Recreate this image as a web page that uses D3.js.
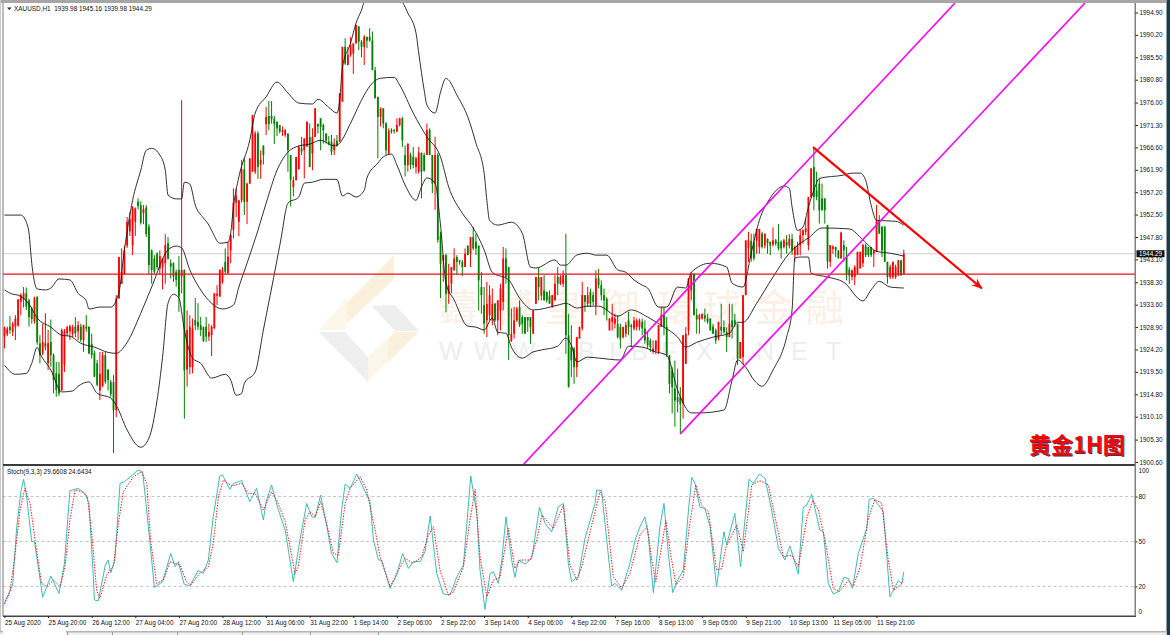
<!DOCTYPE html>
<html><head><meta charset="utf-8">
<script src="https://cdn.jsdelivr.net/npm/d3@7/dist/d3.min.js"></script>
<style>
html,body{margin:0;padding:0;background:#fff;overflow:hidden}
svg{display:block}
text{font-family:"Liberation Sans",Arial,sans-serif}
</style></head><body>
<svg id="c" width="1170" height="635"></svg>
<script>
const opens=[1926.9,1927.4,1929,1927.9,1929,1929.2,1934.2,1934.6,1936,1934.5,
1932.8,1930.1,1935.2,1925.5,1923.4,1924.8,1921.3,1925.8,1923,1919.2,
1919.1,1915.6,1921,1927.6,1928,1927.5,1929,1928,1929,1926.2,
1929,1929,1925.4,1923.5,1921.3,1915.6,1916.5,1923,1920,1917.4,
1917.4,1911.5,1934.9,1938,1940,1946,1949,1946,1951,1955.2,
1954.5,1952.8,1954,1950,1945,1943.3,1944.3,1941.2,1941.5,1942.3,
1946.5,1942.3,1942.3,1940.5,1940.9,1939.5,1940.9,1920,1920.5,1920.5,
1930.4,1930,1929.3,1928.9,1929,1926.9,1927.2,1928.6,1935.5,1935.3,
1938.4,1942.6,1940.2,1945,1949.3,1955,1951,1955.5,1962,1955.2,
1959,1961.5,1961.5,1969.5,1963,1967,1971.5,1973.2,1973.2,1972.6,
1972,1971.3,1969.9,1969.2,1969.5,1965,1958.3,1959.7,1962,1966.4,
1966,1966.8,1968.8,1965.3,1968.8,1971.5,1972.7,1971.3,1969.5,1967.8,
1967.8,1966,1968,1967.8,1976.2,1987.7,1983.9,1986,1986.3,1988.4,
1992,1988.8,1987.7,1989.8,1989.8,1989,1982.8,1977.2,1973,1974.8,
1971.6,1965.3,1970.3,1970.2,1969.9,1971.3,1972.7,1965,1962.9,1965,
1964.6,1962.5,1961.5,1965.5,1965,1965,1970.2,1965,1959,1965,
1948,1942.9,1944,1935.9,1938,1940.8,1943.6,1942.9,1942.6,1941.5,
1946,1944.3,1947.8,1946.8,1946,1937.3,1933.5,1930.3,1931.4,1930.3,
1933.8,1930.3,1932.4,1934.2,1943.3,1941.5,1926,1927.5,1930.3,1933.1,
1931,1931,1931,1931,1927.5,1933.8,1939.4,1935.5,1936.6,1936.3,
1935.5,1933.1,1934.5,1939.4,1938,1938,1939.8,1927.2,1924.7,1924.4,
1920.5,1926.5,1928.6,1935.6,1933.8,1936.3,1935.6,1933.5,1939.1,1937.7,
1935.6,1934.8,1928.2,1930,1929.6,1929.6,1928.9,1926.8,1927.5,1930.3,
1929.3,1928.6,1928.9,1928.9,1930,1928.6,1926.8,1926.1,1923.7,1924,
1923.7,1929,1931.4,1929,1923,1919.8,1916,1914.2,1914.2,1912.9,
1921.2,1928.2,1936.6,1940.1,1931.4,1930.5,1930.7,1931.4,1930.7,1930.7,
1929,1928.2,1926.5,1929,1928.9,1927.9,1926.8,1930.3,1930.3,1929.6,
1922.3,1922.6,1935.6,1945.4,1947,1946.7,1947,1945.7,1948.5,1946,
1947.4,1946.8,1946.2,1947.1,1946.8,1946.8,1945.7,1946.8,1946,1947.4,
1944,1944,1946,1948.2,1948.9,1946.1,1956.2,1962.5,1957.6,1959,
1955.9,1955.9,1950.3,1942.6,1945.3,1945.7,1945,1943.3,1946.1,1943.6,
1941,1939.4,1939.4,1940.1,1941.2,1942.3,1946,1945.7,1945.7,1944.3,
1944.7,1951.3,1950,1950,1942.6,1939.4,1939.4,1939.4,1939.8,1942.9,1939.98];
const closes=[1928.8,1928.6,1928.3,1929.6,1930.7,1934.7,1935.6,1936,1933.2,1931,
1930.6,1935,1925.7,1923,1925.8,1925.5,1925.5,1923,1917.8,1915.7,
1915,1928.3,1928,1928.9,1929.1,1928.9,1927.6,1929.3,1926.2,1929.3,
1928.6,1923.4,1923,1918.5,1916.8,1919.1,1923,1917.4,1917.8,1914.8,
1911.5,1934.9,1943.6,1940.5,1945,1951,1951.6,1954,1953.8,1954.3,
1950.8,1953.7,1948.4,1941.9,1940.9,1940.5,1941.5,1943.8,1943.3,1946.1,
1943.3,1941.6,1939.5,1938.8,1935.3,1940.9,1919.8,1928.3,1929,1928.6,
1929.3,1929,1928.3,1926,1926.9,1927.9,1929,1936,1935.9,1940.9,
1941,1940.5,1943.7,1948.2,1955,1956.5,1955.5,1962,1955.2,1959,
1964.3,1973.4,1969.5,1962.5,1964,1965,1973,1971.5,1972.5,1971.5,
1970.6,1969.9,1970.2,1970.2,1966,1959.8,1959.7,1964.6,1966.7,1965.7,
1968.5,1972,1962.5,1968.8,1974.8,1971,1970.9,1970.2,1968,1967.4,
1965.7,1967.4,1967,1977.9,1987.7,1984.2,1986,1988,1988.4,1992.3,
1988.8,1987.7,1989.8,1989,1989,1982.8,1976.9,1973,1974.8,1971.6,
1966,1970.1,1969.9,1970,1971.3,1972.7,1968.1,1962.9,1967.4,1962.9,
1962.9,1964.3,1965.5,1961.5,1961.7,1970.2,1965,1959,1965,1947.2,
1942.2,1944,1935.9,1937.7,1941.5,1943.3,1942.6,1942.6,1941.5,1944.3,
1944,1947.8,1945.4,1945.4,1938.7,1935.6,1929.6,1933.8,1935.6,1933.8,
1930.3,1934.5,1937,1943.3,1939.4,1927.2,1927.5,1930.3,1932.8,1929.3,
1929.6,1927.5,1930.3,1928.9,1932.4,1939.4,1937.3,1939.4,1934.5,1934.5,
1933.8,1935.6,1938,1938,1939.4,1939.8,1927.2,1916.4,1921.9,1920.5,
1926.8,1928.9,1935.6,1934.2,1935.6,1933.8,1934.2,1939.1,1937.7,1935.6,
1934.5,1932.4,1930.7,1931,1930.7,1926.8,1926.5,1928.9,1929.3,1928.9,
1928.9,1930.3,1930.3,1930.3,1928.6,1926.1,1925.1,1924.7,1924.4,1926.1,
1929.3,1931.4,1929,1923,1917,1916.3,1913.5,1913.2,1912.7,1927.2,
1927.5,1939.1,1939.8,1931.4,1930.5,1931.4,1931.7,1930.7,1930,1928.2,
1927.5,1926.1,1930,1928.2,1927.9,1926.8,1929.6,1928.9,1929.6,1922.3,
1925.8,1935.6,1947.1,1947.1,1943.3,1943.3,1949.5,1949.5,1945.7,1948.5,
1946.5,1946,1947.1,1946.4,1945.4,1945.4,1947.1,1946,1947.4,1945,
1945.7,1946,1948.2,1949.2,1949.6,1956.2,1962.2,1956.2,1956.2,1953.4,
1953.4,1953.4,1942.6,1946.1,1945.8,1945,1943.3,1948.7,1945,1940.1,
1939.7,1940.8,1941.5,1944.7,1944.7,1946.1,1944,1944,1944,1945,
1951.3,1948.5,1945,1942.6,1939.4,1941.5,1942.6,1941.5,1942.9,1939.8,1944.29];
const highs=[1929,1929,1931.2,1930,1931.4,1934.8,1936,1937.3,1937.2,1934.8,
1933.2,1935.3,1935.4,1927.2,1929.6,1931.8,1928.3,1930.5,1923.4,1921.6,
1921.6,1928.6,1928.5,1929.2,1929.4,1929.4,1931,1930.2,1929.6,1929.4,
1931.4,1929,1927.5,1924,1922,1923.7,1923.7,1923.7,1920,1917.8,
1918.8,1935.6,1943.6,1945.4,1946,1952,1953,1954.3,1954,1955.9,
1955.3,1954.5,1954.5,1950.5,1945.2,1944,1944.6,1945,1943.3,1948.4,
1947.8,1943.1,1942.5,1941,1943.8,1976.5,1941,1932.4,1931.4,1930.7,
1935,1933.9,1931,1929,1931,1929.6,1929.3,1936,1937.7,1941,
1941.5,1945.4,1946.8,1948.5,1958,1958,1955.5,1964,1964.3,1959.2,
1964.3,1973.4,1970,1970,1966,1967,1975.1,1976.3,1976.3,1973.2,
1972,1971.3,1971,1970.5,1969.5,1965,1960.5,1964.6,1967,1968.8,
1968.5,1972,1971.6,1970.6,1974.8,1971.6,1972.7,1971.6,1969.6,1969,
1969.2,1968.5,1969.2,1978,1987.7,1989.5,1987.7,1989.8,1988.4,1992.3,
1992,1989.1,1990.2,1989.8,1991.6,1990.9,1983.5,1977.2,1975,1974.8,
1971.9,1970.6,1970.6,1970.5,1972.7,1972.8,1973,1967,1967.4,1965.5,
1966.7,1964.6,1966.7,1965.5,1965.5,1971.6,1970.6,1965,1968.8,1965.5,
1948.9,1944,1944.3,1942.2,1941.5,1945.4,1944,1943,1943,1945.4,
1946,1947.8,1949.9,1948.5,1946,1940.5,1937.3,1938.4,1937.7,1937,
1934,1934.5,1938,1945.7,1945.4,1941.5,1932.8,1933.1,1933.1,1934.5,
1931.4,1931,1931,1931,1932.4,1939.4,1941.5,1939.4,1939.8,1936.3,
1936.6,1935.6,1939.8,1941.5,1939.8,1940.8,1948.5,1931.7,1929.3,1924.7,
1926.8,1929,1938.4,1935.6,1937.3,1937,1936.3,1940.8,1941.1,1938.7,
1937,1935.2,1930.7,1933.8,1931.7,1931.4,1929.6,1929,1930,1932.1,
1929.6,1931,1930.7,1930.7,1930.7,1930.3,1927.9,1926.5,1926.1,1926.1,
1929.3,1933.1,1933.1,1931,1923,1920.5,1921.9,1920.2,1916.3,1927.2,
1928.9,1939.1,1940.5,1940.1,1932.8,1931.7,1931.7,1932.8,1931.7,1930.7,
1929.6,1928.6,1930,1933.8,1930.3,1928.9,1933.8,1933.8,1931.7,1929.6,
1925.8,1935.6,1947.1,1948.9,1948.5,1948.5,1949.5,1949.5,1948.9,1948.5,
1947.5,1946.8,1949.8,1947.4,1950.5,1947.1,1947.4,1948.2,1948.4,1948.5,
1946,1946.8,1949.5,1949.5,1951.7,1956.2,1962.2,1966.4,1961.5,1960,
1959,1955.9,1950.3,1946.1,1946.1,1945.8,1945,1948.9,1947.1,1945.7,
1941.5,1941,1941.9,1944.7,1944.7,1946.4,1946.4,1945.7,1945.7,1945,
1954.5,1952.4,1950,1950,1942.6,1942,1942.6,1942,1943,1943,1945.16];
const lows=[1924.4,1927,1927.5,1927,1926.2,1929,1931.4,1933,1932.5,1929,
1929.6,1929.6,1925.2,1921.3,1923,1924,1919.9,1920.6,1915,1914.3,
1914.4,1915.6,1919.5,1927,1926.2,1926.8,1926.8,1926.2,1925.8,1923.7,
1927.9,1923.2,1922.3,1918.4,1916.5,1913.6,1916.3,1917,1915.6,1914.2,
1902.5,1910,1934.9,1938,1940,1945.5,1948,1944,1948,1953.6,
1950.4,1950.5,1947.8,1940,1938,1940,1941,1940,1936.8,1938,
1943,1939.1,1938.4,1937.4,1932.1,1936,1909.7,1916.4,1919,1919.2,
1928.3,1928.3,1927,1925.8,1925.8,1926,1922.8,1928.6,1933.5,1935.3,
1938,1940,1940,1942.3,1947.5,1952,1948,1955,1952.4,1950.5,
1959,1961.5,1961,1960,1960,1963,1969.2,1970.2,1971.6,1967.3,
1969,1969.5,1969,1968.8,1961.5,1954.2,1956.3,1959.7,1962,1965,
1960.1,1966.7,1962.5,1961.8,1968.8,1969.5,1966,1967.4,1967.4,1967,
1965,1965,1966.7,1967.8,1976.2,1983.9,1983.8,1985.6,1982,1988.4,
1987,1985.5,1983.9,1987.4,1988.8,1982.8,1976.9,1964.3,1971,1970.6,
1965,1965,1969.5,1969.5,1969.8,1971,1966.7,1960.5,1961.5,1962,
1962.2,1961.1,1961.1,1955.9,1961.5,1965,1965,1957,1953.5,1946.6,
1935,1938.4,1932,1933.8,1936,1940.8,1939.8,1942,1939.6,1941.5,
1944,1941.5,1945,1944,1932.4,1931.7,1927.5,1926.8,1930.3,1929.3,
1930,1927.2,1928.2,1932.4,1938,1922,1925.8,1926.5,1930,1928.9,
1927.5,1927.5,1927.9,1925.4,1927.5,1933.8,1934.5,1934.5,1934.5,1934,
1933.8,1933,1934.5,1935.6,1937.7,1937.3,1923.3,1916.2,1918.4,1917,
1918.4,1926.5,1928.2,1932.1,1933.1,1933.1,1933.5,1931.4,1937,1934.5,
1931.4,1930.3,1928.2,1928.2,1928.6,1926.5,1924.4,1926.5,1926.8,1927.2,
1924.7,1928.2,1928.2,1928.2,1927.2,1925.4,1924.4,1923.7,1923.3,1923.2,
1923.3,1928.9,1927.2,1922.6,1915,1910.8,1908,1911,1906.4,1909.7,
1921.2,1927.2,1934.5,1931.4,1927.5,1927.5,1930.5,1930,1929.6,1928.2,
1927.5,1925.4,1926.1,1927.2,1927.5,1923.7,1926.8,1926.5,1928.9,1920.9,
1922.3,1920.9,1935.6,1942.6,1942.6,1942.9,1944.3,1944.3,1945.4,1945.4,
1944.3,1944,1945.8,1946,1945,1943.3,1945.4,1944.3,1945.4,1944,
1942.6,1944,1944,1946.4,1948.2,1945,1956,1953.4,1955.5,1950.6,
1953.4,1950.6,1941.2,1941.5,1944.3,1943.6,1943.3,1943.3,1942.6,1938.7,
1938,1938.7,1937.7,1940.1,1941.2,1941.5,1943.6,1943.6,1943.6,1941.5,
1944.7,1948.5,1943.6,1942.6,1938,1939,1939,1939,1939.6,1939.6,1939.98];

const upperBars=[0,6,8,9,10,12,15,17,20,24,27,30,31,35,39,42,44,47,50,52,54,57,59,60,63,65,66,68,70,73,75,76,79,82,83,84,86,90,92,96,100,104,108,113,115,119,122,123,124,127,129,131,132,135,144,146,148,151,152,154,155,158,160,162,163,166,170,173,176,177,178,181,186,190,193,195,202,204,206,210,214,217,221,225,228,231,234,236,240,243,247,250,252,259,265,267,271,274,277,281,284,286,288,289,291,293,295,297,299,308,311,314,316,318,320,327,330];
const upperVals=[1952.4,1952.4,1950.9,1948.6,1942.3,1936.9,1936.7,1937.1,1939,1938.8,1936,1934.4,1932.7,1933.1,1933.1,1936.2,1945.1,1955.5,1961.8,1966,1966.4,1965,1961.8,1956.6,1955.8,1955.8,1959.3,1958.9,1954.5,1951.8,1950.3,1949.2,1946.5,1946.7,1948.6,1954.1,1960.4,1968.1,1973.8,1977.2,1980.3,1978,1975.9,1975.7,1976.7,1975,1973.8,1976.5,1983.4,1988.5,1992.7,1995.4,1997.1,1998.5,1998.5,1997.1,1994.8,1990.6,1986.4,1978.6,1975.5,1973.8,1978.2,1981.1,1980.7,1977.6,1973,1967.5,1961.2,1955.5,1951.3,1950.3,1950.9,1948.6,1941.5,1941.3,1943,1941.9,1941.9,1944,1944.4,1944,1944,1940.9,1940.4,1938.8,1937.7,1937.1,1933.1,1933.1,1937.3,1937.1,1940.4,1942.3,1941.5,1938.1,1937.3,1944.4,1951.3,1956,1958,1958.5,1958,1954.1,1949.2,1949.9,1954.1,1957.6,1960.1,1960.8,1961.2,1961.2,1959.7,1954.5,1951.3,1951.1,1950.3];
const middleBars=[0,3,5,9,12,17,21,24,28,33,38,41,45,50,54,60,63,65,68,72,76,80,84,86,89,93,96,100,104,108,112,116,121,123,127,132,135,138,143,145,150,155,160,163,168,172,176,179,185,189,194,203,206,210,214,218,225,230,236,242,247,250,254,260,266,269,271,276,282,288,292,295,300,310,315,320,325,330];
const middleVals=[1936.7,1935.8,1935.6,1933.7,1930.8,1928.9,1927.2,1927,1925.5,1924.7,1923.6,1923.4,1925.7,1931.8,1937.3,1945.1,1945.9,1945.5,1940.9,1936.7,1933.9,1932.7,1933.5,1937.3,1942.3,1949.2,1954.9,1961.8,1965.6,1966.9,1967.3,1968.1,1966.9,1967.5,1971.7,1977.6,1980.1,1981.1,1981.3,1979.7,1973.8,1968.8,1964.6,1958.3,1952.8,1949.7,1945.1,1940.4,1938.8,1935,1932.5,1933.5,1933.9,1932.9,1933.3,1933.3,1931.2,1932.5,1931,1928.9,1926.8,1924.7,1925.7,1926.8,1927.6,1929.9,1929.9,1933.9,1939.4,1944.4,1946.5,1947.6,1949.7,1949.5,1947.2,1944.8,1944.4,1943.8];
const lowerBars=[0,4,8,10,12,13,17,21,25,27,31,34,39,41,45,50,53,56,58,60,62,64,66,69,72,76,81,83,85,87,88,92,95,100,102,103,104,108,110,113,117,122,124,126,129,132,133,137,139,142,144,147,151,153,155,158,160,162,165,170,173,176,179,181,184,186,190,194,197,203,206,208,210,214,218,226,229,234,239,243,247,249,252,255,264,267,269,272,275,278,282,287,289,290,292,295,296,302,308,315,318,321,325,330];
const lowerVals=[1920.9,1919,1919.2,1921.3,1924.7,1923.4,1919.9,1915.3,1915.5,1916.5,1917.4,1915,1914,1912.5,1907.3,1903.7,1905.6,1913.6,1922.6,1933.9,1935.8,1935,1928.3,1922.4,1921.3,1918.2,1919,1917.8,1914.6,1915,1917.1,1919.5,1928.3,1943,1949.2,1952.8,1954.9,1956.2,1959.1,1959.3,1959.9,1959.9,1956.4,1957,1956.2,1957.6,1960.2,1963.3,1964.6,1965.2,1962.9,1958.7,1955.5,1958.3,1960.2,1959.1,1950.3,1938.1,1934.6,1929.1,1928.9,1928.3,1930.8,1927.8,1927.6,1924.7,1922.4,1923.7,1924.1,1924.9,1926.6,1925.1,1921.6,1922.6,1922.4,1922,1924.9,1924.7,1923.7,1923,1915.7,1913,1910.9,1910.9,1911.5,1917.8,1922,1920.5,1917.8,1916.5,1919.9,1926.8,1932.5,1943.4,1943.6,1943.6,1940.2,1939.4,1938.3,1934.4,1936.7,1938.5,1937.3,1937.1];

const stochBars=[0,3,4.5,6,7,8,10,11,12.4,14,17,20,22,24,27,29.5,31,32.6,33,34.4,37,38,39,40.5,42.4,44,49,50.7,52.8,55,58,61,62.6,63.8,65.9,68,71,73,74.8,76.6,79,80,82.7,84,87,90,92.5,95,96,98,100.5,103,106,108.4,110.9,112.7,114,116,118.2,120,122,123.7,125,126.8,129.3,134.1,135.4,137.2,138.4,141.5,143.9,146.1,148.2,150,152.5,154.3,156.2,158.6,161,163.5,166,168.4,171.1,173.3,174.5,176.3,178.2,179.4,181.2,182.5,184,186.1,187.3,188.6,191,193.5,196.3,198.4,200.8,203.2,205.1,206.9,208.1,210.6,213,216.7,217.3,219.1,221,222.8,224,226.5,229.5,231.4,233.2,235,236.3,238.1,240.5,242,243.6,245.2,246.7,249.1,251,252.2,253.4,255.2,257,258.9,261.3,264,265,268,270.1,271.7,273.2,274.8,277,279.1,281.5,284,286.4,288.2,291.3,293.1,294.4,296.2,299.2,300.5,302.3,304.1,306,308,309.6,311.2,313.3,316.4,317.3,318.8,322.5,324.9,328,329.2,330];
const stochVals=[9.1,20.9,59.9,83.2,91.5,82.1,49.8,49.8,33.1,12.7,26.9,15.3,35.4,83.9,85.5,82.1,75.4,26.5,10.9,10.2,34.2,37.6,29.1,37.6,88.8,89.9,97.7,96.6,59.9,19.3,23.1,42,33.1,36.5,21.6,20.2,30.5,28.7,37.6,66.5,93.7,94.4,84.8,88.8,90.6,76.6,85.5,64.3,76.6,87.7,71,57.6,23.1,50.9,75.4,66.5,66.1,81,61,42,35.8,71,88.4,85.5,95,76.6,50.9,37.6,37.6,18.7,27.6,42,32,36.5,36.5,43.2,67,28.7,14.9,14.2,26.5,34.2,93.7,68.8,30.9,4.6,28.7,29.8,22,37.6,66.5,37.6,26,37.6,34.9,38.7,72.8,62.1,56.5,73.2,75.4,35.4,23.1,26.5,52,75.4,84.4,83.9,50.9,20.2,22,17.5,35.4,50.9,59.9,66.5,53.2,15.8,59.9,75.4,42,15.8,23.1,30.9,71,92.8,88.8,72.8,72.1,59.9,19.8,56.5,47.6,68.8,33.1,64.3,91.5,88.8,95,92.2,71,45.4,37.6,47,28.2,72.8,74.3,81.5,57.6,56.5,22,14.9,16.4,26,25.3,18.7,42,58.7,78.1,78.8,69.9,13.1,23.8,21.6,29.66];
const signalBars=[0,2,3.9,5.7,7.5,9.4,11.2,13.6,15.5,18,20.4,22.2,24,25.9,28.3,30.4,32,33.8,35,37.5,40,41.8,43.6,47.3,50.3,52.2,53.6,55.8,58.3,60.7,64.4,66.8,68.3,71.7,74.8,76.6,78.5,80.3,83.4,87,89.5,92,95,98,99.9,103,106.6,107.8,110.3,112.1,114,116,118.2,120.7,122.5,125,126.8,130.5,132.9,136,137.8,141.5,145.2,147,150,153.1,155.5,157.4,159.8,162.9,164.7,168.4,170.8,172.7,174.5,177,179.4,181.8,184.9,187.3,189.2,192.9,195.3,197.2,201.4,205.1,207.5,210,211.8,214.9,218.5,220.4,223.4,226.5,229.5,233.2,235.9,237.5,239,240.5,242.7,244.4,246.4,249.1,251.3,253.7,255.8,258.3,261.3,263.2,264.8,268.7,271.1,274.2,277.2,280.3,282.7,285.8,288.8,291.3,294.4,296.6,298.6,301.1,304.1,306.3,309.6,311.5,314,317,319.4,321.9,324.3,326.2,329.2,330];
const signalVals=[8.2,16.4,42,71,85.5,75.4,50.9,22,19.8,24.2,19.8,33.1,64.3,84.4,83.3,80,55.4,17.5,12,27.6,33.6,62,83.2,93.3,96.6,88.8,50.9,22,24.2,36.5,34.2,23.1,20.9,28.7,33.1,48.7,79.9,91,87,88.8,82.1,82.1,71,83.2,77.7,63.2,28.7,33.1,64.3,69.9,66.5,76.6,62,42,40.9,75.4,85.5,93.3,84.4,57.6,39.8,19.8,33.1,38.7,35.4,39.8,54.3,59.9,30.9,14.2,16.4,33.1,64.3,84.8,39.8,13.1,24.2,26,58.7,32,37.6,37.6,50.9,67.7,58.7,74.3,34.2,24.2,33.1,56.5,83.2,76.6,26.5,18.7,28.7,54.3,59.9,37.6,23.1,39.8,63.9,42,20.9,26.5,59.9,87.7,74.3,69.9,30.9,32,46.5,61,43.2,87.7,90.6,87.7,66.5,39.8,40.9,33.1,65.4,77.7,71,50.9,18.7,16.4,23.8,20.2,33.1,65.4,78.1,75.4,37.6,17.5,21.6,24.64];

const priceTicks=[1994.9,1990.2,1985.5,1980.8,1976,1971.3,1966.6,1961.9,1957.2,1952.5,1947.8,1943.1,1938.3,1933.6,1928.9,1924.2,1919.5,1914.8,1910.1,1905.3,1900.6];
const stochTicks=[100,80,50,20,0];
const stochLevels=[80,50,20];
const timeTicks=d3.range(0,321,16);
const timeLabels=["25 Aug 2020","25 Aug 20:00","26 Aug 12:00","27 Aug 04:00","27 Aug 20:00","28 Aug 12:00","31 Aug 06:00","31 Aug 22:00","1 Sep 14:00","2 Sep 06:00","2 Sep 22:00","3 Sep 14:00","4 Sep 06:00","4 Sep 22:00","7 Sep 16:00","8 Sep 13:00","9 Sep 05:00","9 Sep 21:00","10 Sep 13:00","11 Sep 05:00","11 Sep 21:00"];
const supportLevel=[1940];
const lastBid=[1944.29];
const channelBars=[[190.3,348.8],[248.1,396.5]];
const channelVals=[[1900,1996.9],[1906.55,1996.9]];
const trendBars=[296.7,358.7];
const trendVals=[1966.66,1937];

const svg=d3.select("#c");
const L=3,R=1135,T=3,MB=464,SB=616;
const x=d3.scaleLinear().domain([0,330]).range([4.5,903.8]);
const y=d3.scaleLinear().domain([1900.6,1994.9]).range([462,12.5]);
const sy=d3.scaleLinear().domain([0,100]).range([616.3,466.6]);

const defs=svg.append("defs");
defs.append("clipPath").attr("id","mainClip").append("rect").attr("x",L).attr("y",T).attr("width",R-L).attr("height",MB-T);
defs.append("clipPath").attr("id","stClip").append("rect").attr("x",L).attr("y",MB+2).attr("width",R-L).attr("height",SB-MB-2);
defs.append("marker").attr("id","arrow").attr("markerUnits","userSpaceOnUse").attr("viewBox","0 0 12 10").attr("refX",11.5).attr("refY",5).attr("markerWidth",11).attr("markerHeight",9).attr("orient","auto")
  .append("path").attr("d","M0,0L12,5L0,10L4,5Z").attr("fill","#f00");

// window chrome
svg.append("rect").attr("x",0).attr("y",0).attr("width",1170).attr("height",635).attr("fill","#fff");
svg.append("rect").attr("x",0).attr("y",0).attr("width",1166).attr("height",3).attr("fill","#a6a6a6");
svg.append("rect").attr("x",0).attr("y",0).attr("width",1).attr("height",635).attr("fill","#c8c8c8");
svg.append("rect").attr("x",1166.5).attr("y",0).attr("width",3.5).attr("height",635).attr("fill","#1c3a4e");
svg.append("rect").attr("x",0).attr("y",631).attr("width",1166.5).attr("height",4).attr("fill","#f0f0f0");
svg.append("rect").attr("x",0).attr("y",631).attr("width",1166.5).attr("height",1.5).attr("fill","#b4b4b4");
svg.append("rect").attr("x",3).attr("y",631).attr("width",63).attr("height",4).attr("fill","#fff");
svg.selectAll(".tab").data([67,112,177,242,310,378]).join("rect").attr("x",d=>d).attr("y",632).attr("width",1).attr("height",3).attr("fill","#999");

// watermark
const wm=svg.append("g");
[["#faf0dc",[[394,255],[394,279],[354,317],[347,323],[347,303]]],
 ["#fdf6ea",[[347,298],[347,327],[345,330],[319,330]]],
 ["#eeeeee",[[372,306],[395,305],[419,331],[395,331]]],
 ["#faf0dc",[[395,332],[419,332],[388,362],[388,339]]],
 ["#fdf6ea",[[368,357],[388,338],[388,362],[368,382]]],
 ["#efefef",[[319,332],[345,332],[368,357],[368,382]]]
].forEach(p=>wm.append("polygon").attr("points",p[1].join(" ")).attr("fill",p[0]));
wm.append("text").attr("x","439 496 545 601 657 703 755 806").attr("y",321)
  .style("font-family",'"Noto Sans CJK TC"').style("font-size","38px").attr("fill","#fcefe6").text("鑄博皇御環球金融");
wm.append("text").attr("x","439 474 512 555 578 609 631 661 696 730 756 791 826").attr("y",360)
  .style("font-size","25px").attr("fill","#eeeeee").text("WWW.BIBFX.NET");

// reference lines
svg.append("line").attr("x1",L).attr("x2",R).attr("y1",y(lastBid[0])).attr("y2",y(lastBid[0])).attr("stroke","#cfcfcf").attr("stroke-width",1);

const main=svg.append("g").attr("clip-path","url(#mainClip)");
const idx=d3.range(closes.length);
const col=i=>closes[i]>=opens[i]?"#ff0000":"#008000";
main.selectAll(".wick").data(idx).join("line").attr("x1",i=>x(i)).attr("x2",i=>x(i))
  .attr("y1",i=>y(highs[i])).attr("y2",i=>y(lows[i])).attr("stroke",col).attr("stroke-width",1);
main.selectAll(".body").data(idx).join("rect").attr("x",i=>x(i)-0.9).attr("width",1.8)
  .attr("y",i=>y(Math.max(opens[i],closes[i]))).attr("height",i=>Math.max(1,Math.abs(y(opens[i])-y(closes[i])))).attr("fill",col);

const bandLine=d3.line().x(d=>x(d[0])).y(d=>y(d[1])).curve(d3.curveMonotoneX);
[[upperBars,upperVals],[middleBars,middleVals],[lowerBars,lowerVals]].forEach(b=>{
  main.append("path").datum(d3.zip(b[0],b[1])).attr("d",bandLine).attr("fill","none").attr("stroke","#1a1a1a").attr("stroke-width",0.9);
});

main.selectAll(".lvl").data(supportLevel).join("line").attr("x1",L).attr("x2",R).attr("y1",d=>y(d)).attr("y2",d=>y(d)).attr("stroke","#e8101a").attr("stroke-width",1.3);
channelBars.forEach((b,k)=>{
  main.append("line").attr("x1",x(b[0])).attr("x2",x(b[1])).attr("y1",y(channelVals[k][0])).attr("y2",y(channelVals[k][1])).attr("stroke","#ff00ff").attr("stroke-width",1.6);
});
main.append("line").attr("x1",x(trendBars[0])).attr("x2",x(trendBars[1])).attr("y1",y(trendVals[0])).attr("y2",y(trendVals[1])).attr("stroke","#ff0000").attr("stroke-width",2.2).attr("marker-end","url(#arrow)");

// stochastic
const st=svg.append("g").attr("clip-path","url(#stClip)");
st.selectAll(".lv").data(stochLevels).join("line").attr("x1",L).attr("x2",R).attr("y1",d=>sy(d)).attr("y2",d=>sy(d)).attr("stroke","#c4c4c4").attr("stroke-dasharray","3 2.5").attr("stroke-width",1);
const stLine=d3.line().x(d=>x(d[0])).y(d=>sy(d[1]));
st.append("path").datum(d3.zip(stochBars,stochVals)).attr("d",stLine).attr("fill","none").attr("stroke","#3cbdb6").attr("stroke-width",1);
st.append("path").datum(d3.zip(signalBars,signalVals)).attr("d",stLine).attr("fill","none").attr("stroke","#ff1010").attr("stroke-width",1).attr("stroke-dasharray","1.4 1.4");

// frame
svg.append("rect").attr("x",2.5).attr("y",3).attr("width",1).attr("height",613).attr("fill","#777");
svg.append("rect").attr("x",L).attr("y",MB).attr("width",R-L+1).attr("height",2).attr("fill","#3c3c3c");
svg.append("rect").attr("x",L).attr("y",SB-0.5).attr("width",R-L+1).attr("height",1.5).attr("fill","#444");
svg.append("rect").attr("x",R-0.5).attr("y",T).attr("width",1.5).attr("height",SB-T).attr("fill","#808080");

// axes
const axFont="6.4px";
const pa=svg.append("g").attr("transform",`translate(${R+0.5},0)`).call(d3.axisRight(y).tickValues(priceTicks).tickFormat(d3.format(".2f")).tickSize(2.5).tickPadding(1.5));
const sa=svg.append("g").attr("transform",`translate(${R+0.5},0)`).call(d3.axisRight(sy).tickValues(stochTicks).tickFormat(d=>d).tickSize(2).tickPadding(1));
const ta=svg.append("g").attr("transform",`translate(0,${SB})`).call(d3.axisBottom(x).tickValues(timeTicks).tickFormat((d,i)=>timeLabels[i]).tickSize(2).tickPadding(3));
[pa,sa,ta].forEach(a=>{a.select(".domain").remove();a.selectAll("line").attr("stroke","#222");a.selectAll("text").style("font-size",axFont).style("font-family",'"Liberation Sans"').attr("fill","#111");});
ta.selectAll("text").attr("text-anchor","start").attr("dy","0.55em");
sa.selectAll(".tick").filter(d=>d===100).select("text").attr("dy","1.0em");
sa.selectAll(".tick").filter(d=>d===0).select("text").attr("dy","-0.45em");
sa.selectAll(".tick").filter(d=>d===100||d===0).select("line").remove();

// last price tag
svg.append("rect").attr("x",1136.5).attr("y",y(lastBid[0])-3.5).attr("width",28).attr("height",7).attr("fill","#111");
svg.append("text").attr("x",1139).attr("y",y(lastBid[0])+2.4).attr("fill","#fff").style("font-size",axFont).text(d3.format(".2f")(lastBid[0]));

// headers
svg.append("path").attr("d","M7,7.5h4.5l-2.25,2.5z").attr("fill","#222");
svg.append("text").attr("x",14).attr("y",11).attr("fill","#111").style("font-size","6.4px").attr("xml:space","preserve").text("XAUUSD,H1  1939.98 1945.16 1939.98 1944.29");
svg.append("text").attr("x",7).attr("y",474).attr("fill","#111").style("font-size","6.4px").text("Stoch(9,3,3) 29.6608 24.6434");

// caption
svg.append("text").attr("x",1029).attr("y",453).attr("fill","#ff0000").style("font-family",'"Noto Sans CJK SC"').style("font-weight","700").style("font-size","22px").style("text-shadow","1px 1px 0 #2a3a66").text("黄金1H图");
</script>
</body></html>
